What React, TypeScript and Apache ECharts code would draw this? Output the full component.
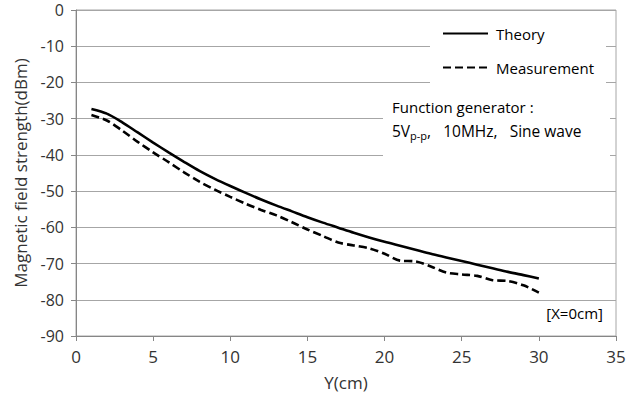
import React, { useEffect, useRef } from 'react';
import * as echarts from 'echarts';

const positions = [1, 2, 3, 4, 5, 6, 7, 8, 9, 10, 11, 12, 13, 14, 15, 16, 17, 18, 19, 20, 21, 22, 23, 24, 25, 26, 27, 28, 29, 30];
const theory = [-27.3, -28.6, -31.0, -33.8, -36.6, -39.3, -41.9, -44.4, -46.6, -48.6, -50.5, -52.3, -54.0, -55.6, -57.2, -58.7, -60.1, -61.5, -62.8, -64.0, -65.1, -66.2, -67.3, -68.3, -69.3, -70.3, -71.3, -72.3, -73.2, -74.1];
const measurement = [-29.0, -30.5, -33.3, -36.4, -39.3, -42.0, -44.8, -47.4, -49.6, -51.6, -53.5, -55.2, -56.7, -58.6, -60.6, -62.4, -64.2, -65.0, -65.8, -67.3, -69.2, -69.4, -70.8, -72.5, -73.0, -73.4, -74.6, -74.8, -76.0, -78.0];
const seriesNames = ['Theory', 'Measurement'];
const noteLine1 = 'Function generator :';
const noteLine2 = ['5V', 'p-p', ',   10MHz,   Sine wave'];
const positionNote = '[X=0cm]';
const xAxisTitle = 'Y(cm)';
const yAxisTitle = 'Magnetic field strength(dBm)';

const FONT = 'Open Sans';

export default function App() {
  const ref = useRef<HTMLDivElement>(null);
  useEffect(() => {
    if (!ref.current) return;
    const chart = echarts.init(ref.current, undefined, { renderer: 'svg' });
    const axisColor = '#868686';
    const gridColor = '#a6a6a6';
    const labelColor = '#333';
    chart.setOption({
      animation: false,
      backgroundColor: '#fff',
      textStyle: { fontFamily: FONT },
      grid: {
        left: 76, right: 25, top: 10, bottom: 63,
        show: true, borderColor: gridColor, borderWidth: 1,
      },
      legend: {
        data: seriesNames,
        orient: 'vertical',
        left: 430, top: 13,
        padding: [13, 12, 12, 12],
        itemWidth: 45, itemHeight: 14, itemGap: 19,
        backgroundColor: '#fff',
        itemStyle: { opacity: 0 },
        textStyle: { fontFamily: FONT, fontSize: 15, color: '#000', padding: [0, 0, 0, 3] },
      },
      xAxis: {
        type: 'value', min: 0, max: 35, interval: 5,
        name: xAxisTitle, nameLocation: 'middle', nameGap: 38,
        nameTextStyle: { fontFamily: FONT, fontSize: 17, color: labelColor },
        axisLine: { show: true, onZero: false, lineStyle: { color: axisColor, width: 1 } },
        axisTick: { show: true, length: 5, lineStyle: { color: axisColor } },
        splitLine: { show: false },
        axisLabel: { fontFamily: FONT, fontSize: 17, color: labelColor, margin: 12 },
      },
      yAxis: {
        type: 'value', min: -90, max: 0, interval: 10,
        name: yAxisTitle, nameLocation: 'middle', nameGap: 47, nameRotate: 90,
        nameTextStyle: { fontFamily: FONT, fontSize: 17, color: labelColor },
        axisLine: { show: true, lineStyle: { color: axisColor, width: 1 } },
        axisTick: { show: true, length: 5, lineStyle: { color: axisColor } },
        splitLine: { show: true, lineStyle: { color: gridColor, width: 1 } },
        axisLabel: { fontFamily: FONT, fontSize: 16, lineHeight: 15, color: labelColor, margin: 12 },
      },
      series: [
        {
          name: seriesNames[0], type: 'line', smooth: 0.3,
          symbol: 'none', showSymbol: false,
          data: positions.map((p, i) => [p, theory[i]]),
          lineStyle: { color: '#000', width: 2.6, type: 'solid' },
          itemStyle: { color: '#000' },
        },
        {
          name: seriesNames[1], type: 'line', smooth: 0.3,
          symbol: 'none', showSymbol: false,
          data: positions.map((p, i) => [p, measurement[i]]),
          lineStyle: { color: '#000', width: 2.6, type: [8, 4] },
          itemStyle: { color: '#000' },
        },
      ],
      graphic: [
        { type: 'rect', z: 1, shape: { x: 383, y: 90, width: 227, height: 74 }, style: { fill: '#fff' } },
        {
          type: 'text', z: 3, x: 392, y: 107,
          style: { text: noteLine1, fontFamily: FONT, fontSize: 15, fill: '#000', verticalAlign: 'middle' },
        },
        {
          type: 'text', z: 3, x: 392, y: 131,
          style: {
            text: `{n|${noteLine2[0]}}{s|${noteLine2[1]}}{n|${noteLine2[2]}}`,
            verticalAlign: 'middle',
            rich: {
              n: { fontFamily: FONT, fontSize: 15.5, fill: '#000', color: '#000', lineHeight: 20, verticalAlign: 'middle' },
              s: { fontFamily: FONT, fontSize: 11, fill: '#000', color: '#000', lineHeight: 20, verticalAlign: 'bottom', padding: [3, 0, 0, 0] },
            },
          },
        },
        {
          type: 'text', z: 3, x: 603, y: 313,
          style: { text: positionNote, fontFamily: FONT, fontSize: 15, fill: '#000', align: 'right', verticalAlign: 'middle' },
        },
      ],
    });
    return () => chart.dispose();
  }, []);
  return <div ref={ref} style={{ width: 641, height: 399, position: 'absolute', left: 0, top: 0 }} />;
}
